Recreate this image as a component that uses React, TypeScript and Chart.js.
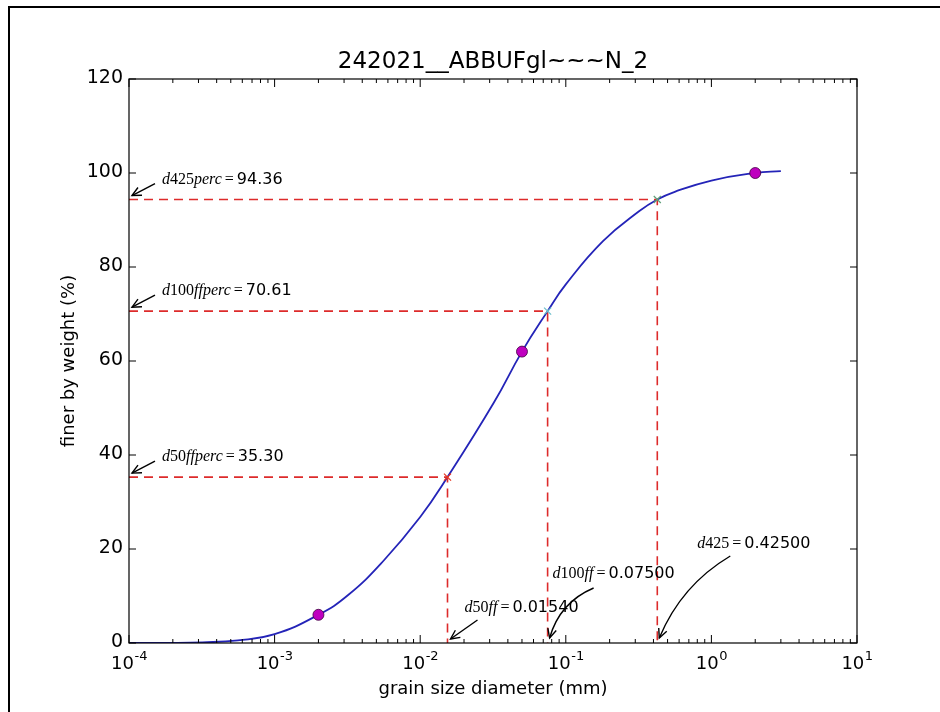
import React, { useEffect, useRef } from "react";
import { Chart, registerables } from "chart.js";

Chart.register(...registerables);

// ---------- data ----------
const TITLE = "242021__ABBUFgl~~~N_2";
const X_LABEL = "grain size diameter (mm)";
const Y_LABEL = "finer by weight (%)";

const curveX = [1e-4, 1.8e-4, 3.2e-4, 5.6e-4, 1e-3, 2e-3, 3.2e-3, 5.6e-3, 1e-2, 1.54e-2, 3.2e-2, 5e-2, 7.5e-2, 0.1, 0.18, 0.32, 0.425, 0.56, 1, 2, 3];
const curveY = [0, 0.03, 0.15, 0.56, 1.87, 6.0, 10.2, 17.5, 26.8, 35.3, 51.1, 62.0, 70.61, 76.3, 85.5, 91.9, 94.36, 96.0, 98.4, 100.0, 100.4];

const sampleX = [0.002, 0.05, 2];
const sampleY = [6, 62, 100];

const dNames = ["d50ff", "d100ff", "d425"];
const dSizes = [0.0154, 0.075, 0.425];
const dSizeText = ["0.01540", "0.07500", "0.42500"];
const dPercs = [35.3, 70.61, 94.36];
const dPercText = ["35.30", "70.61", "94.36"];

const yTicks = [0, 20, 40, 60, 80, 100, 120];
const xDecades = [-4, -3, -2, -1, 0, 1];

// ---------- styles / layout ----------
const X_MIN = 1e-4;
const X_MAX = 10;
const CURVE_COLOR = "#2424b8";
const DASH_COLOR = "#dd2b2b";
const CROSS_COLORS = ["#e6341f", "#6cbfcc", "#5f9f7a"];
const POINT_COLOR = "#bf00bf";
const SANS = '"DejaVu Sans", sans-serif';
const SERIF = '"Liberation Serif", serif';

// offsets (pixels) of the text / arrow relative to the annotated point
const vText = [[17, -31], [5, -65], [40, -95]];
const vArrowStart = [[30, -23], [46, -55], [73, -87]];
const vArrowEnd = [[3, -4], [2, -5], [2, -5]];
const vBend = [0, 16, 18];

function drawMath(ctx: CanvasRenderingContext2D, s: string, x: number, y: number) {
  let cx = x;
  const runs = s.match(/[0-9]+|[^0-9]+/g) || [];
  for (const r of runs) {
    ctx.font = /[0-9]/.test(r) ? `16px ${SERIF}` : `italic 16px ${SERIF}`;
    ctx.fillText(r, cx, y);
    cx += ctx.measureText(r).width;
  }
  ctx.font = `16px ${SERIF}`;
  cx += 3;
  ctx.fillText("=", cx, y);
  cx += ctx.measureText("=").width + 3;
  return cx;
}

function drawArrow(ctx: CanvasRenderingContext2D, x0: number, y0: number, x1: number, y1: number, bend: number) {
  let cx = (x0 + x1) / 2;
  let cy = (y0 + y1) / 2;
  const dx = x1 - x0, dy = y1 - y0;
  const len = Math.hypot(dx, dy) || 1;
  let px = dy / len, py = -dx / len;
  if (px + py > 0) { px = -px; py = -py; }
  cx += px * bend; cy += py * bend;
  ctx.beginPath();
  ctx.moveTo(x0, y0);
  ctx.quadraticCurveTo(cx, cy, x1, y1);
  ctx.stroke();
  const ang = Math.atan2(y1 - cy, x1 - cx);
  const L = 10, s = 0.45;
  ctx.beginPath();
  ctx.moveTo(x1 - L * Math.cos(ang - s), y1 - L * Math.sin(ang - s));
  ctx.lineTo(x1, y1);
  ctx.lineTo(x1 - L * Math.cos(ang + s), y1 - L * Math.sin(ang + s));
  ctx.stroke();
}

const framePlugin = {
  id: "frame",
  beforeDraw(chart: any) {
    const ctx = chart.ctx as CanvasRenderingContext2D;
    ctx.save();
    ctx.fillStyle = "#fff";
    ctx.fillRect(0, 0, chart.width, chart.height);
    ctx.fillStyle = "#000";
    ctx.fillRect(8, 6, 2, chart.height - 6);
    ctx.fillRect(8, 6, chart.width - 8, 2);
    ctx.restore();
  },
};

const overlayPlugin = {
  id: "overlay",
  afterDatasetsDraw(chart: any) {
    const ctx = chart.ctx as CanvasRenderingContext2D;
    const a = chart.chartArea;
    const xs = chart.scales.x;
    const ys = chart.scales.y;
    ctx.save();
    ctx.strokeStyle = "#000";
    ctx.fillStyle = "#000";

    ctx.lineWidth = 1.2;
    ctx.strokeRect(a.left, a.top, a.right - a.left, a.bottom - a.top);

    const seg = (x0: number, y0: number, x1: number, y1: number) => {
      ctx.beginPath(); ctx.moveTo(x0, y0); ctx.lineTo(x1, y1); ctx.stroke();
    };

    // y ticks + labels
    ctx.lineWidth = 1;
    ctx.font = `19px ${SANS}`;
    ctx.textAlign = "right";
    ctx.textBaseline = "middle";
    for (const v of yTicks) {
      const y = ys.getPixelForValue(v);
      seg(a.left, y, a.left + 7, y);
      seg(a.right, y, a.right - 7, y);
      ctx.fillText(String(v), a.left - 6, y - 1);
    }

    // x ticks + labels
    ctx.textAlign = "left";
    ctx.textBaseline = "alphabetic";
    for (const d of xDecades) {
      const x = xs.getPixelForValue(Math.pow(10, d));
      seg(x, a.bottom, x, a.bottom - 8);
      seg(x, a.top, x, a.top + 8);
      if (d < xDecades[xDecades.length - 1]) {
        for (let m = 2; m <= 9; m++) {
          const xm = xs.getPixelForValue(m * Math.pow(10, d));
          seg(xm, a.bottom, xm, a.bottom - 4);
          seg(xm, a.top, xm, a.top + 4);
        }
      }
      ctx.font = `18px ${SANS}`;
      const wb = ctx.measureText("10").width;
      const sup = String(d);
      ctx.font = `13px ${SANS}`;
      const ws = ctx.measureText(sup).width;
      const x0 = x - (wb + ws) / 2;
      ctx.font = `18px ${SANS}`;
      ctx.fillText("10", x0, a.bottom + 26);
      ctx.font = `13px ${SANS}`;
      ctx.fillText(sup, x0 + wb + 0.5, a.bottom + 17);
    }

    // titles
    ctx.textAlign = "center";
    ctx.textBaseline = "alphabetic";
    ctx.font = `23px ${SANS}`;
    ctx.fillText(TITLE, (a.left + a.right) / 2, a.top - 11);
    ctx.font = `18px ${SANS}`;
    ctx.fillText(X_LABEL, (a.left + a.right) / 2, a.bottom + 51);
    ctx.save();
    ctx.translate(74, (a.top + a.bottom) / 2);
    ctx.rotate(-Math.PI / 2);
    ctx.fillText(Y_LABEL, 0, 0);
    ctx.restore();

    // annotations
    ctx.textAlign = "left";
    ctx.textBaseline = "alphabetic";
    ctx.lineWidth = 1.4;
    for (let i = 0; i < dNames.length; i++) {
      const ty = ys.getPixelForValue(dPercs[i]);
      const tx = a.left;
      drawArrow(ctx, tx + 26, ty - 16, tx + 3, ty - 4, 0);
      let cx = drawMath(ctx, dNames[i] + "perc", tx + 33, ty - 16);
      ctx.font = `16px ${SANS}`;
      ctx.fillText(dPercText[i], cx, ty - 16);

      const vx = xs.getPixelForValue(dSizes[i]);
      const vy = a.bottom;
      drawArrow(ctx, vx + vArrowStart[i][0], vy + vArrowStart[i][1], vx + vArrowEnd[i][0], vy + vArrowEnd[i][1], vBend[i]);
      cx = drawMath(ctx, dNames[i], vx + vText[i][0], vy + vText[i][1]);
      ctx.font = `16px ${SANS}`;
      ctx.fillText(dSizeText[i], cx, vy + vText[i][1]);
    }
    ctx.restore();
  },
};

export default function App() {
  const ref = useRef<HTMLCanvasElement | null>(null);

  useEffect(() => {
    if (!ref.current) return;
    const datasets: any[] = [];
    datasets.push({
      data: curveX.map((x, i) => ({ x, y: curveY[i] })),
      borderColor: CURVE_COLOR,
      borderWidth: 1.8,
      pointRadius: 0,
      tension: 0.45,
      order: 5,
    });
    dSizes.forEach((x, i) => {
      datasets.push({
        data: [{ x: X_MIN, y: dPercs[i] }, { x, y: dPercs[i] }, { x, y: 0 }],
        borderColor: DASH_COLOR,
        borderWidth: 1.6,
        borderDash: [9, 6],
        pointRadius: 0,
        tension: 0,
        order: 4,
      });
    });
    dSizes.forEach((x, i) => {
      datasets.push({
        data: [{ x, y: dPercs[i] }],
        showLine: false,
        pointStyle: "crossRot",
        pointRadius: 5,
        borderColor: CROSS_COLORS[i],
        borderWidth: 1.2,
        order: 3,
      });
    });
    datasets.push({
      data: sampleX.map((x, i) => ({ x, y: sampleY[i] })),
      showLine: false,
      pointStyle: "circle",
      pointRadius: 5.5,
      backgroundColor: POINT_COLOR,
      borderColor: "#400040",
      borderWidth: 0.8,
      order: 1,
    });

    const chart = new Chart(ref.current, {
      type: "line",
      data: { datasets },
      options: {
        animation: false,
        responsive: false,
        events: [],
        layout: { padding: { left: 129, top: 79, right: 83, bottom: 69 } },
        scales: {
          x: { type: "logarithmic", min: X_MIN, max: X_MAX, display: false },
          y: { type: "linear", min: 0, max: 120, display: false },
        },
        plugins: { legend: { display: false }, tooltip: { enabled: false }, title: { display: false } },
      },
      plugins: [framePlugin, overlayPlugin],
    } as any);
    return () => chart.destroy();
  }, []);

  return (
    <div style={{ position: "fixed", left: 0, top: 0, width: 940, height: 712, background: "#fff" }}>
      <canvas ref={ref} width={940} height={712} style={{ display: "block", width: 940, height: 712 }} />
    </div>
  );
}
